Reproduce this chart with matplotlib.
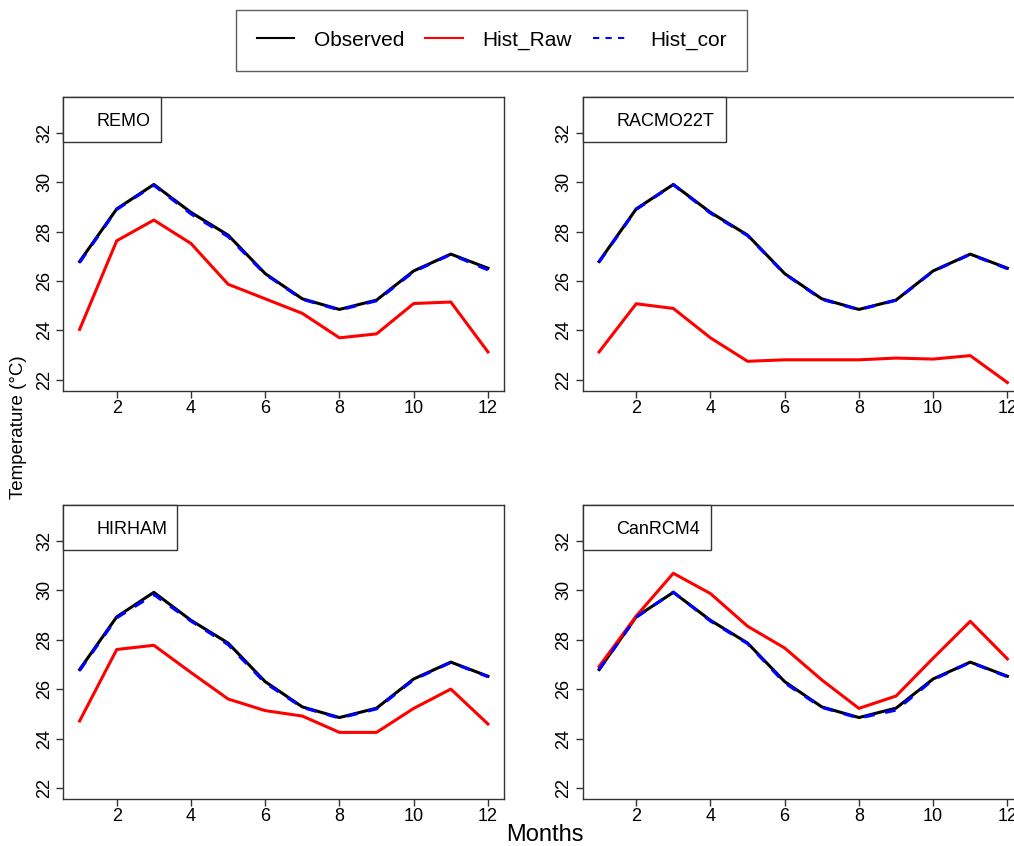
import matplotlib
matplotlib.use('Agg')
import matplotlib.pyplot as plt
from matplotlib.lines import Line2D
from matplotlib.patches import Rectangle

plt.rcParams['font.family'] = ['Liberation Sans', 'DejaVu Sans']

# monthly mean temperatures (deg C)
months = list(range(1, 13))

observed = [26.79, 28.92, 29.91, 28.78, 27.86, 26.30, 25.28, 24.85, 25.23, 26.41, 27.09, 26.52]

remo_raw = [24.04, 27.63, 28.47, 27.52, 25.87, 25.28, 24.69, 23.70, 23.86, 25.09, 25.15, 23.13]
remo_cor = [26.75, 28.90, 29.88, 28.72, 27.80, 26.28, 25.26, 24.83, 25.20, 26.38, 27.08, 26.45]

racmo_raw = [23.13, 25.08, 24.89, 23.70, 22.75, 22.81, 22.81, 22.81, 22.88, 22.84, 22.98, 21.89]
racmo_cor = [26.77, 28.90, 29.90, 28.75, 27.84, 26.29, 25.26, 24.84, 25.22, 26.40, 27.08, 26.50]

hirham_raw = [24.71, 27.60, 27.77, 26.67, 25.60, 25.13, 24.91, 24.25, 24.25, 25.22, 26.00, 24.59]
hirham_cor = [26.75, 28.88, 29.82, 28.75, 27.80, 26.25, 25.26, 24.83, 25.20, 26.38, 27.08, 26.50]

canrcm_raw = [26.91, 28.95, 30.68, 29.86, 28.54, 27.66, 26.37, 25.22, 25.72, 27.25, 28.74, 27.22]
canrcm_cor = [26.78, 28.90, 29.92, 28.75, 27.84, 26.25, 25.26, 24.83, 25.15, 26.38, 27.08, 26.50]

panels = [
    ('REMO', remo_raw, remo_cor),
    ('RACMO22T', racmo_raw, racmo_cor),
    ('HIRHAM', hirham_raw, hirham_cor),
    ('CanRCM4', canrcm_raw, canrcm_cor),
]

# axes placement (figure fraction) and label box widths (axes fraction)
positions = [
    [0.0624, 0.5382, 0.4349, 0.3468],
    [0.5747, 0.5382, 0.4349, 0.3468],
    [0.0624, 0.0556, 0.4349, 0.3475],
    [0.5747, 0.0556, 0.4349, 0.3475],
]
box_widths = [0.2215, 0.3243, 0.2571, 0.291]

fig = plt.figure(figsize=(10.14, 8.46), dpi=100)

for (name, raw, cor), pos, bw in zip(panels, positions, box_widths):
    ax = fig.add_axes(pos)
    ax.plot(months, observed, color='black', lw=2.2)
    ax.plot(months, raw, color='red', lw=2.2)
    ax.plot(months, cor, color='blue', lw=2.2, dashes=(3.5, 3.5))
    ax.set_xlim(0.56, 12.44)
    ax.set_ylim(21.56, 33.44)
    ax.set_xticks([2, 4, 6, 8, 10, 12])
    ax.set_yticks([22, 24, 26, 28, 30, 32])
    ax.tick_params(direction='out', length=5, width=1, labelsize=13,
                   color='#333333')
    ax.tick_params(axis='x', pad=1.5)
    ax.tick_params(axis='y', pad=2.5, labelrotation=90)
    for lab in ax.get_yticklabels():
        lab.set_va('center')
    for sp in ax.spines.values():
        sp.set_color('#333333')
        sp.set_linewidth(1)
    # model name box in the top-left corner
    ax.add_patch(Rectangle((0, 0.8476), bw, 0.1524, transform=ax.transAxes,
                           facecolor='white', edgecolor='#333333', lw=1,
                           clip_on=False, zorder=5))
    ax.text(0.0757, 0.916, name, transform=ax.transAxes, fontsize=13,
            ha='left', va='center', zorder=6)

handles = [
    Line2D([], [], color='black', lw=1.5),
    Line2D([], [], color='red', lw=1.5),
    Line2D([], [], color='blue', lw=1.5, dashes=(3, 3)),
]
leg = fig.legend(handles, ['Observed', 'Hist_Raw', 'Hist_cor'], ncol=3,
                 loc='center', bbox_to_anchor=(0.4847, 0.9523),
                 fontsize=15, frameon=True, fancybox=False,
                 handlelength=1.8, handletextpad=0.95, columnspacing=1.0,
                 borderpad=1.0, borderaxespad=0)
leg.get_frame().set_edgecolor('#333333')
leg.get_frame().set_linewidth(1)

fig.text(0.0187, 0.495, 'Temperature (°C)', rotation=90, fontsize=13.5,
         ha='center', va='center')
fig.text(0.5375, 0.013, 'Months', fontsize=17, ha='center', va='center')

fig.savefig('out.png', dpi=100)
